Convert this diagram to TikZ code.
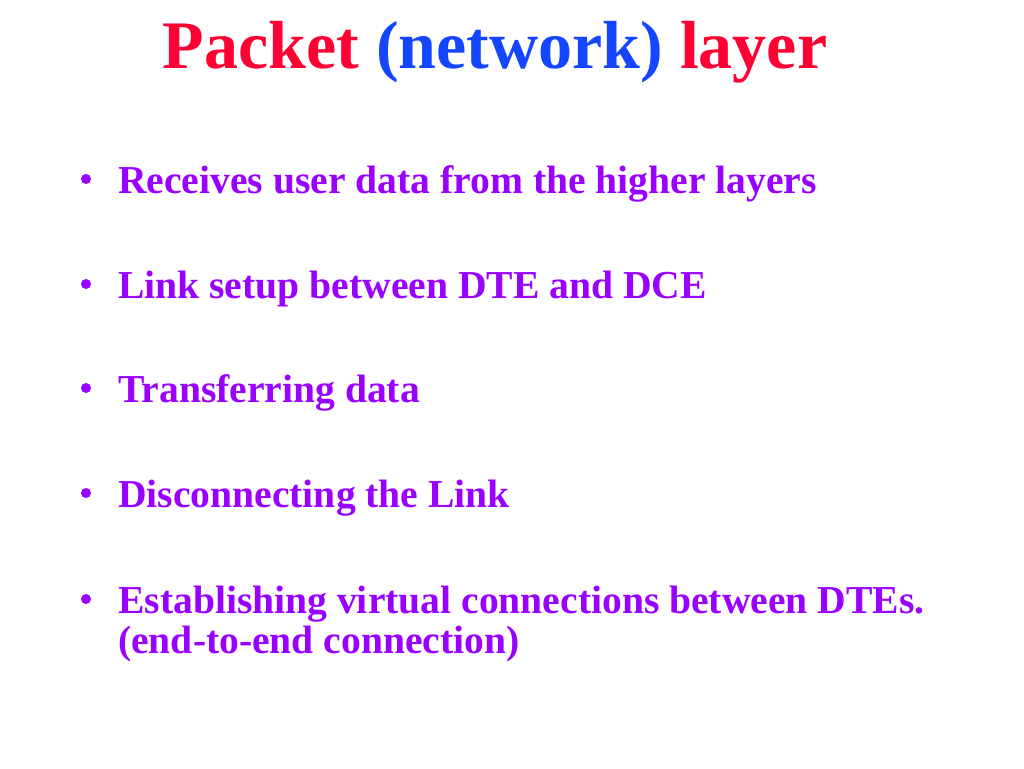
\documentclass[tikz,border=0pt]{standalone}
\usepackage{fontspec}
\setmainfont{Liberation Serif}
\definecolor{tred}{RGB}{255,0,51}
\definecolor{tblue}{RGB}{20,70,255}
\definecolor{bpurple}{RGB}{153,0,255}
\begin{document}
\begin{tikzpicture}[x=1pt,y=-1pt,
  title/.style={anchor=base,inner sep=0pt,font=\fontsize{68}{74}\selectfont\bfseries},
  item/.style={anchor=base west,inner sep=0pt,text=bpurple,font=\fontsize{39.6}{46}\selectfont\bfseries},
  dot/.style={circle,fill=bpurple,inner sep=0pt,minimum size=10pt}]
\useasboundingbox[fill=white] (0,0) rectangle (1024,768);
\node[title] (t) at (495,68) {\textcolor{tred}{Packet} \textcolor{tblue}{(network)} \textcolor{tred}{layer}};
\node[dot] (b1) at (86,179) {};
\node[item] (i1) at (118,193) {Receives user data from the higher layers};
\node[dot] (b2) at (86,284) {};
\node[item] (i2) at (118,298) {Link setup between DTE and DCE};
\node[dot] (b3) at (86,388) {};
\node[item] (i3) at (118,402) {Transferring data};
\node[dot] (b4) at (86,493) {};
\node[item] (i4) at (118,507) {Disconnecting the Link};
\node[dot] (b5) at (86,599) {};
\node[item] (i5) at (118,613) {Establishing virtual connections between DTEs.};
\node[item] (i6) at (118,653) {(end-to-end connection)};
\end{tikzpicture}
\end{document}
